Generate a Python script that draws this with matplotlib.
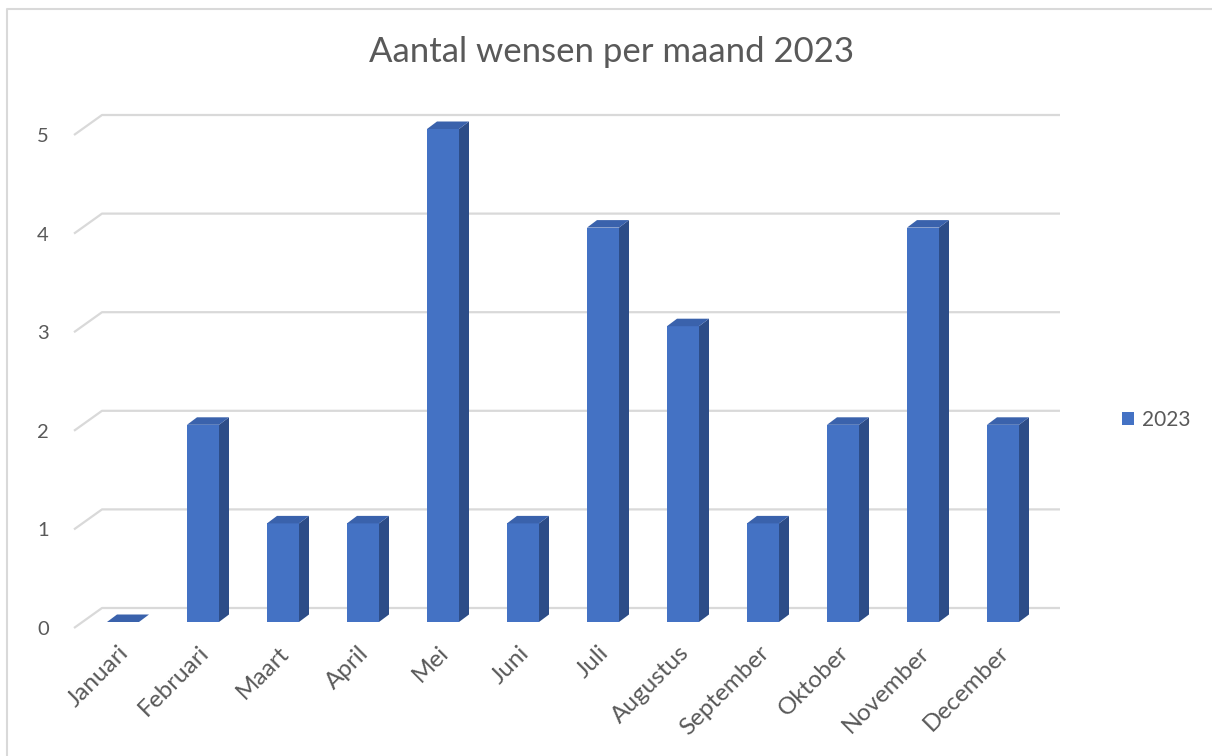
import matplotlib
matplotlib.use("Agg")
import matplotlib.pyplot as plt
import matplotlib.transforms as mtransforms
from matplotlib.patches import Rectangle, Polygon, Patch
from matplotlib.lines import Line2D

# data
maanden = ["Januari", "Februari", "Maart", "April", "Mei", "Juni", "Juli",
           "Augustus", "September", "Oktober", "November", "December"]
wensen = [0, 2, 1, 1, 5, 1, 4, 3, 1, 2, 4, 2]
reeks = "2023"
y_ticks = [0, 1, 2, 3, 4, 5]

plt.rcParams['font.family'] = ['Lato', 'DejaVu Sans']
txt = '#595959'
c_front = '#4472C4'
c_top = '#3A62AC'
c_side = '#2D4D88'
c_grid = '#D9D9D9'

W, H = 1212, 756
fig = plt.figure(figsize=(W / 100, H / 100), dpi=100)

# axes placed so category i sits at the bar centers
L, R, B, T = 60, 1070, 640, 100
ax = fig.add_axes([L / W, 1 - B / H, (R - L) / W, (B - T) / H])
px_x, px_y = 80.0, 98.6          # pixels per category / per unit
x0, y0 = 123.0, 622.0
ax.set_xlim((L - x0) / px_x, (R - x0) / px_x)
ax.set_ylim((y0 - B) / px_y, (y0 - T) / px_y)
for s in ax.spines.values():
    s.set_visible(False)

# 3D offsets (in data units)
bw = 0.4
ddx, ddy = 10 / px_x, 7.5 / px_y          # bar depth
wall_dy = 14 / px_y                         # back wall above front
floor_dy = -6 / px_y                        # front edge of floor
g_x_front, g_x_back, g_x_end = -0.6125, -0.2625, 11.7125

# gridlines (back wall + slanted side)
for v in y_ticks:
    ax.plot([g_x_front, g_x_back, g_x_end],
            [v + floor_dy, v + wall_dy, v + wall_dy],
            color=c_grid, lw=1.6, zorder=1, solid_capstyle='butt')

# bars
for i, v in enumerate(wensen):
    xl = i - bw / 2
    xr = i + bw / 2
    if v > 0:
        ax.add_patch(Rectangle((xl, 0), bw, v, facecolor=c_front, edgecolor='none', zorder=3))
        ax.add_patch(Polygon([(xr, 0), (xr + ddx, ddy), (xr + ddx, v + ddy), (xr, v)],
                             closed=True, facecolor=c_side, edgecolor='none', zorder=3))
    ax.add_patch(Polygon([(xl, v), (xl + ddx, v + ddy), (xr + ddx, v + ddy), (xr, v)],
                         closed=True, facecolor=c_top, edgecolor='none', zorder=3))

# ticks
ax.set_yticks([v + floor_dy for v in y_ticks])
ax.set_yticklabels([str(v) for v in y_ticks])
ax.set_xticks(range(len(maanden)))
ax.set_xticklabels(maanden, rotation=45, ha='right', rotation_mode='anchor')
ax.tick_params(axis='both', length=0, colors=txt)
ax.tick_params(axis='y', pad=8, labelsize=14.5)
ax.tick_params(axis='x', pad=3, labelsize=17.5)
shift = mtransforms.ScaledTranslation(-5 / 100, 2 / 100, fig.dpi_scale_trans)
for lab in ax.get_xticklabels():
    lab.set_transform(lab.get_transform() + shift)

# title
fig.text(612 / W, 1 - 52 / H, "Aantal wensen per maand 2023", ha='center', va='center',
         fontsize=25, color=txt)

# legend
fig.legend(handles=[Patch(facecolor=c_front, edgecolor='none', label=reeks)],
           loc='center left', bbox_to_anchor=(1103 / W, 1 - 420 / H), frameon=False,
           handlelength=0.6, handleheight=0.6, handletextpad=0.35,
           fontsize=15, labelcolor=txt)

# chart border (left and top edges visible)
fig.add_artist(Line2D([7 / W, 7 / W, 1], [0, 1 - 9 / H, 1 - 9 / H],
                      transform=fig.transFigure, color='#D9D9D9', lw=1.5))

fig.savefig("out.png", dpi=100, facecolor='white')
